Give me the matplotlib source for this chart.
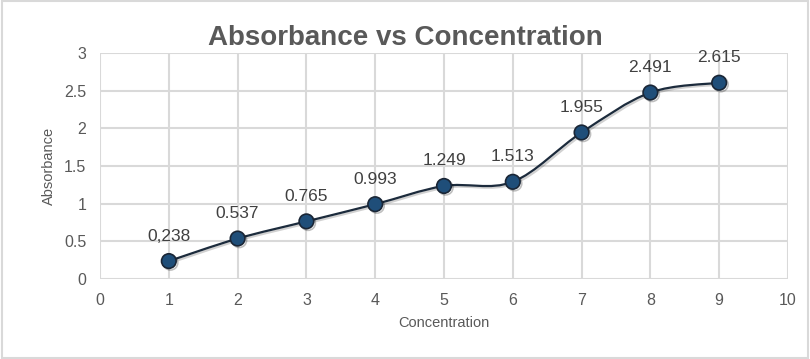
import matplotlib
import numpy as np

matplotlib.use("Agg")
import matplotlib.pyplot as plt
import matplotlib.patheffects as pe
from matplotlib.patches import PathPatch, Rectangle
from matplotlib.path import Path

concentration = [1, 2, 3, 4, 5, 6, 7, 8, 9]
absorbance = [0.238, 0.537, 0.765, 0.993, 1.235, 1.29, 1.945, 2.475, 2.605]
point_labels = ["0,238", "0.537", "0.765", "0.993", "1.249", "1.513", "1.955", "2.491", "2.615"]
x_ticks = [0, 1, 2, 3, 4, 5, 6, 7, 8, 9, 10]
y_ticks = [0, 0.5, 1, 1.5, 2, 2.5, 3]

FONT = ["Liberation Sans", "DejaVu Sans"]
GRID = "#D9D9D9"
TEXT = "#595959"


def smooth_path(xs, ys, tension=1 / 6):
    """Bezier path through the points, similar to Excel's smoothed line."""
    pts = np.column_stack([xs, ys]).astype(float)
    verts = [pts[0]]
    codes = [Path.MOVETO]
    n = len(pts)
    for i in range(n - 1):
        p0 = pts[i - 1] if i > 0 else pts[i]
        p1, p2 = pts[i], pts[i + 1]
        p3 = pts[i + 2] if i + 2 < n else pts[i + 1]
        c1 = p1 + (p2 - p0) * tension
        c2 = p2 - (p3 - p1) * tension
        verts += [c1, c2, p2]
        codes += [Path.CURVE4] * 3
    return Path(verts, codes)


fig = plt.figure(figsize=(8.1, 3.59), dpi=100)
fig.patches.append(Rectangle((0.002, 0.003), 0.996, 0.994, transform=fig.transFigure,
                             fill=False, edgecolor=GRID, linewidth=1.5))
ax = fig.add_axes([0.1235, 0.2228, 0.8493, 0.6296])

ax.set_xlim(0, 10)
ax.set_ylim(0, 3)
ax.set_xticks(x_ticks)
ax.set_yticks(y_ticks)
ax.set_xticklabels([str(t) for t in x_ticks])
ax.set_yticklabels([f"{t:g}" for t in y_ticks])
ax.grid(True, color=GRID, linewidth=1.5)
ax.set_axisbelow(True)
for side in ax.spines.values():
    side.set_visible(False)
ax.tick_params(length=0, pad=10, labelsize=11.5, labelcolor=TEXT)
for lab in ax.get_xticklabels() + ax.get_yticklabels():
    lab.set_family(FONT)

shadow = [pe.SimpleLineShadow(offset=(1.2, -1.2), alpha=0.18), pe.Normal()]
curve = PathPatch(smooth_path(concentration, absorbance), fill=False,
                  edgecolor="#1C2B3C", linewidth=1.6, path_effects=shadow)
ax.add_patch(curve)
ax.plot(concentration, absorbance, linestyle="none", marker="o", markersize=10.5,
        markerfacecolor="#1F4E79", markeredgecolor="#1A2636", markeredgewidth=1.2,
        path_effects=[pe.SimpleLineShadow(offset=(1.2, -1.2), alpha=0.25), pe.Normal()],
        zorder=3)

for x, y, txt in zip(concentration, absorbance, point_labels):
    ax.annotate(txt, (x, y), xytext=(0, 18), textcoords="offset points",
                ha="center", va="center", fontsize=12.5, color="#404040", family=FONT)

fig.text(0.5, 0.893, "Absorbance vs Concentration", ha="center", va="center",
         fontsize=20, fontweight="bold", color=TEXT, family=FONT)
ax.set_xlabel("Concentration", fontsize=10.5, color=TEXT, family=FONT, labelpad=6)
ax.set_ylabel("Absorbance", fontsize=10.5, color=TEXT, family=FONT, labelpad=6)

fig.savefig("out.png", dpi=100)
